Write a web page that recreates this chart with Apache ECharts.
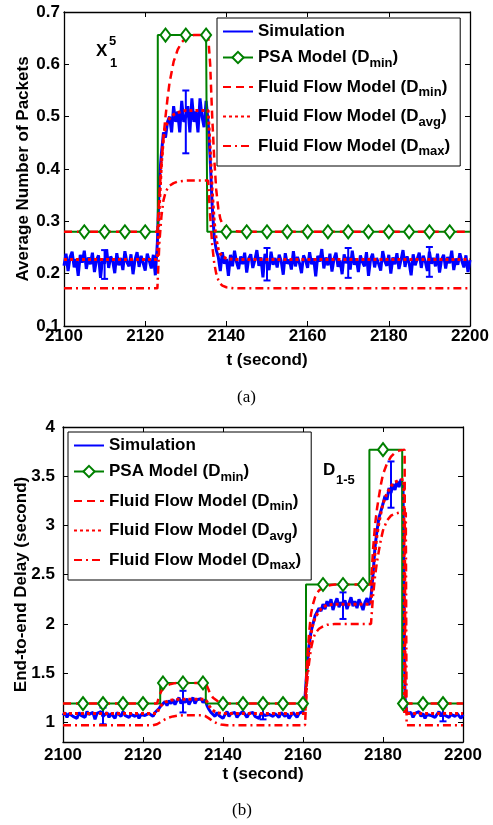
<!DOCTYPE html>
<html><head><meta charset="utf-8">
<script src="https://cdn.jsdelivr.net/npm/echarts@6/dist/echarts.min.js"></script>
<style>html,body{margin:0;padding:0;background:#fff}#c{width:493px;height:825px}</style>
</head><body><div id="c"></div>
<script>
// ---------------- shared ----------------
const names = ['Simulation', 'PSA Model (Dmin)', 'Fluid Flow Model (Dmin)', 'Fluid Flow Model (Davg)', 'Fluid Flow Model (Dmax)'];
const xTicks = [2100, 2120, 2140, 2160, 2180, 2200];
const simT0 = 2100, simDt = 0.5;

// ---------------- (a) X_1^5 average number of packets ----------------
const aSim = [
0.215,0.238,0.205,0.232,0.242,0.212,0.228,0.196,0.236,0.221,
0.244,0.209,0.231,0.218,0.240,0.203,0.226,0.235,0.192,0.229,
0.219,0.246,0.211,0.233,0.224,0.201,0.239,0.216,0.230,0.207,
0.243,0.222,0.214,0.237,0.199,0.227,0.241,0.213,0.234,0.220,
0.206,0.238,0.225,0.210,0.236,0.197,
0.26,0.38,0.43,0.47,0.46,0.49,0.5,0.47,0.52,0.49,
0.51,0.47,0.53,0.49,0.5,0.52,0.47,0.535,0.49,0.51,
0.47,0.535,0.5,0.48,0.53,0.49,0.42,0.33,0.27,0.245,
0.232,0.205,0.241,0.219,0.228,0.196,0.236,0.214,0.244,0.222,
0.209,0.233,0.218,0.240,0.202,0.229,0.237,0.211,0.226,0.245,
0.215,0.231,0.193,0.238,0.221,0.207,0.242,0.217,0.230,0.212,
0.236,0.224,0.198,0.239,0.219,0.227,0.208,0.243,0.214,0.232,
0.220,0.201,0.235,0.226,0.211,0.241,0.218,0.229,0.195,0.234,
0.223,0.247,0.210,0.231,0.216,0.238,0.204,0.228,0.240,0.213,
0.225,0.199,0.237,0.220,0.232,0.208,0.244,0.217,0.229,0.203,
0.235,0.222,0.214,0.241,0.196,0.227,0.238,0.212,0.230,0.219,
0.206,0.243,0.224,0.215,0.236,0.200,0.231,0.218,0.239,0.209,
0.226,0.245,0.213,0.233,0.221,0.197,0.237,0.216,0.228,0.240,
0.211,0.234,0.223,0.205,0.242,0.219,0.230,0.214,0.238,0.202,
0.227,0.236,0.210,0.232,0.220,0.244,0.207,0.229,0.217,0.239,
0.224,0.212,0.235,0.203,0.226];
const aErrT  = [2110, 2130, 2150, 2170, 2190];
const aErrLo = [0.19, 0.43, 0.187, 0.192, 0.194];
const aErrHi = [0.245, 0.55, 0.249, 0.249, 0.251];
const aPsaStepT = [2100, 2123.1, 2123.1, 2135.3, 2135.3, 2200];
const aPsaStepV = [0.28, 0.28, 0.656, 0.656, 0.28, 0.28];
const aPsaMarkT = [2105,2110,2115,2120,2125,2130,2135,2140,2145,2150,2155,2160,2165,2170,2175,2180,2185,2190,2195];
const aPsaMarkV = [0.28,0.28,0.28,0.28,0.656,0.656,0.656,0.28,0.28,0.28,0.28,0.28,0.28,0.28,0.28,0.28,0.28,0.28,0.28];
const aDminT = [2100,2123,2123.5,2124,2124.5,2125,2125.5,2126,2127,2128,2129,2130,2131,2132,2135.5,2136,2136.5,2137,2137.5,2138,2138.5,2139,2140,2141,2142,2144,2200];
const aDminV = [0.28,0.28,0.35,0.41,0.46,0.50,0.535,0.565,0.605,0.628,0.642,0.65,0.654,0.656,0.656,0.60,0.50,0.42,0.36,0.325,0.305,0.295,0.287,0.283,0.281,0.28,0.28];
const aDavgT = [2100,2123,2123.5,2124,2124.5,2125,2125.5,2126,2127,2128,2129,2130,2135.5,2136,2136.5,2137,2137.5,2138,2138.5,2139,2140,2142,2200];
const aDavgV = [0.227,0.227,0.33,0.41,0.46,0.48,0.49,0.497,0.504,0.508,0.51,0.512,0.512,0.44,0.36,0.30,0.265,0.247,0.238,0.233,0.229,0.227,0.227];
const aDmaxT = [2100,2123,2123.5,2124,2124.5,2125,2125.5,2126,2127,2128,2130,2135.5,2136,2136.5,2137,2137.5,2138,2138.5,2139,2140,2141,2142,2200];
const aDmaxV = [0.172,0.172,0.26,0.31,0.34,0.355,0.363,0.368,0.373,0.376,0.378,0.378,0.31,0.255,0.22,0.2,0.188,0.181,0.177,0.174,0.173,0.172,0.172];
const aYTicks = [0.1, 0.2, 0.3, 0.4, 0.5, 0.6, 0.7];

// ---------------- (b) D_1-5 end-to-end delay ----------------
const bSim = [
1.07,1.10,1.05,1.09,1.11,1.06,1.08,1.04,1.10,1.07,
1.09,1.05,1.11,1.08,1.06,1.10,1.03,1.09,1.07,1.11,
1.06,1.08,1.10,1.05,1.09,1.07,1.04,1.10,1.08,1.06,
1.11,1.07,1.09,1.05,1.08,1.10,1.06,1.09,1.04,1.08,
1.10,1.07,1.05,1.09,1.08,1.06,1.10,1.09,
1.14,1.17,1.19,1.21,1.17,1.22,1.19,1.23,1.18,1.22,
1.25,1.19,1.23,1.20,1.24,1.18,1.22,1.25,1.19,1.23,
1.21,1.24,1.20,1.23,1.17,1.13,1.10,
1.08,1.06,1.10,1.07,1.09,1.04,1.08,1.11,1.06,1.09,
1.07,1.10,1.05,1.08,1.06,1.11,1.08,1.05,1.09,1.07,
1.10,1.06,1.08,1.04,1.09,1.11,1.07,1.05,1.08,1.10,
1.06,1.09,1.07,1.05,1.10,1.08,1.06,1.09,1.04,1.07,
1.10,1.08,1.05,1.09,1.07,1.11,
1.25,1.55,1.78,1.92,2.00,2.08,2.10,2.16,2.13,2.20,
2.15,2.23,2.18,2.25,2.14,2.21,2.26,2.17,2.22,2.19,
2.24,2.15,2.21,2.27,2.18,2.23,2.16,2.25,2.20,2.14,
2.22,2.26,2.19,2.28,2.50,2.78,2.95,3.08,3.15,3.22,
3.30,3.26,3.38,3.33,3.42,3.36,3.45,3.39,3.47,3.40,
1.25,1.09,
1.07,1.10,1.05,1.09,1.08,1.11,1.06,1.09,1.04,1.08,
1.10,1.07,1.09,1.05,1.08,1.11,1.06,1.10,1.07,1.09,
1.05,1.08,1.10,1.06,1.09,1.07,1.04,1.08];
const bErrT  = [2110, 2130, 2150, 2170, 2182, 2195];
const bErrLo = [0.98, 1.10, 1.03, 2.05, 3.18, 1.01];
const bErrHi = [1.15, 1.32, 1.20, 2.32, 3.65, 1.18];
const bPsaStepT = [2100,2124.3,2124.3,2135.7,2135.7,2160.75,2160.75,2176.6,2176.6,2184.8,2184.8,2200];
const bPsaStepV = [1.19,1.19,1.40,1.40,1.19,1.19,2.40,2.40,3.77,3.77,1.19,1.19];
const bPsaMarkT = [2105,2110,2115,2120,2125,2130,2135,2140,2145,2150,2155,2160,2165,2170,2175,2180,2185,2190,2195];
const bPsaMarkV = [1.19,1.19,1.19,1.19,1.40,1.40,1.40,1.19,1.19,1.19,1.19,1.19,2.40,2.40,2.40,3.77,1.19,1.19,1.19];
const bDminT = [2100,2123.5,2124,2124.5,2125,2125.5,2126,2127,2128,2129,2135.5,2136,2136.5,2137,2137.5,2138,2139,2140,2141,2160.5,2161,2161.5,2162,2162.5,2163,2163.5,2164,2165,2166,2167,2168,2177,2177.5,2178,2178.5,2179,2179.5,2180,2181,2182,2183,2184,2185.4,2185.6,2200];
const bDminV = [1.19,1.19,1.26,1.31,1.34,1.36,1.375,1.39,1.398,1.40,1.40,1.37,1.32,1.28,1.25,1.23,1.205,1.195,1.19,1.19,1.6,1.9,2.1,2.2,2.27,2.31,2.34,2.37,2.385,2.395,2.40,2.40,2.75,3.0,3.17,3.3,3.42,3.52,3.63,3.70,3.74,3.76,3.77,1.19,1.19];
const bDavgT = [2100,2123.5,2124,2124.5,2125,2125.5,2126,2127,2128,2129,2135.5,2136,2136.5,2137,2137.5,2138,2139,2140,2141,2160.5,2161,2161.5,2162,2162.5,2163,2164,2165,2166,2168,2177,2177.5,2178,2178.5,2179,2179.5,2180,2181,2182,2183,2184,2185.2,2185.4,2200];
const bDavgV = [1.09,1.09,1.14,1.17,1.19,1.205,1.215,1.225,1.23,1.235,1.235,1.21,1.17,1.14,1.12,1.105,1.095,1.09,1.09,1.09,1.5,1.75,1.9,2.0,2.06,2.13,2.17,2.19,2.2,2.2,2.5,2.72,2.9,3.03,3.13,3.22,3.33,3.4,3.44,3.46,3.47,1.09,1.09];
const bDmaxT = [2100,2122.5,2123.5,2124.5,2125.5,2126.5,2127.5,2128.5,2130,2134.5,2135.5,2136.5,2137.5,2138.5,2139.5,2141,2160.5,2161,2161.5,2162,2162.5,2163,2164,2165,2166,2168,2177,2177.5,2178,2178.5,2179,2179.5,2180,2181,2182,2183,2184,2185.7,2185.9,2200];
const bDmaxV = [0.97,0.97,0.98,1.005,1.03,1.048,1.06,1.067,1.072,1.072,1.065,1.04,1.01,0.99,0.978,0.97,0.97,1.4,1.6,1.75,1.84,1.9,1.95,1.975,1.99,2.0,2.0,2.28,2.48,2.63,2.75,2.86,2.95,3.05,3.1,3.12,3.13,3.13,0.97,0.97];
const bYTicks = [1, 1.5, 2, 2.5, 3, 3.5, 4];

// ---------------- build ----------------
const BLUE = '#0000ff', GREEN = '#008000', RED = '#ff0000';
const FONT = '"Liberation Sans", Arial, Helvetica, sans-serif';
const axFont = {fontFamily: FONT, fontWeight: 'bold', fontSize: 17, color: '#000'};
const pairs = (T, V) => T.map((t, i) => [t, V[i]]);

function psaData(stepT, stepV, markT, markV) {
  const arr = stepT.map((t, i) => ({t, o: i, item: {value: [t, stepV[i]], symbol: 'none'}}))
    .concat(markT.map((t, i) => ({t, o: 1000 + i, item: {value: [t, markV[i]]}})));
  arr.sort((a, b) => a.t - b.t || a.o - b.o);
  return arr.map(d => d.item);
}

function errRender(params, api) {
  const x = api.value(0), lo = api.value(1), hi = api.value(2);
  const a = api.coord([x, lo]), b = api.coord([x, hi]);
  const w = 3.5, st = {stroke: BLUE, lineWidth: 2};
  return {type: 'group', children: [
    {type: 'line', shape: {x1: a[0], y1: a[1], x2: b[0], y2: b[1]}, style: st},
    {type: 'line', shape: {x1: a[0] - w, y1: a[1], x2: a[0] + w, y2: a[1]}, style: st},
    {type: 'line', shape: {x1: b[0] - w, y1: b[1], x2: b[0] + w, y2: b[1]}, style: st}
  ]};
}

function seriesFor(xi, yi, sim, eT, eLo, eHi, pST, pSV, pMT, pMV, dnT, dnV, daT, daV, dxT, dxV) {
  return [
    {name: names[0], type: 'line', xAxisIndex: xi, yAxisIndex: yi, symbol: 'none', showSymbol: false,
     data: sim.map((v, i) => [simT0 + i * simDt, v]), lineStyle: {color: BLUE, width: 3}, itemStyle: {color: BLUE}},
    {type: 'custom', xAxisIndex: xi, yAxisIndex: yi, renderItem: errRender,
     encode: {x: 0, y: [1, 2]}, data: eT.map((t, i) => [t, eLo[i], eHi[i]])},
    {name: names[1], type: 'line', xAxisIndex: xi, yAxisIndex: yi, symbol: 'diamond', symbolSize: [10, 13],
     showSymbol: true, data: psaData(pST, pSV, pMT, pMV),
     lineStyle: {color: GREEN, width: 2}, itemStyle: {color: '#fff', borderColor: GREEN, borderWidth: 2}},
    {name: names[2], type: 'line', xAxisIndex: xi, yAxisIndex: yi, symbol: 'none', showSymbol: false,
     data: pairs(dnT, dnV), lineStyle: {color: RED, width: 2.5, type: [8, 5]}, itemStyle: {color: RED}},
    {name: names[3], type: 'line', xAxisIndex: xi, yAxisIndex: yi, symbol: 'none', showSymbol: false,
     data: pairs(daT, daV), lineStyle: {color: RED, width: 3, type: [3, 3]}, itemStyle: {color: RED}},
    {name: names[4], type: 'line', xAxisIndex: xi, yAxisIndex: yi, symbol: 'none', showSymbol: false,
     data: pairs(dxT, dxV), lineStyle: {color: RED, width: 2.5, type: [8, 4, 2, 4]}, itemStyle: {color: RED}}
  ];
}

function xAx(grid, pos, labels, margin, name, gap) {
  return {type: 'value', gridIndex: grid, position: pos, min: xTicks[0], max: xTicks[xTicks.length - 1], interval: xTicks[1] - xTicks[0],
    axisLine: {show: true, onZero: false, lineStyle: {color: '#000', width: 1.3}},
    axisTick: {show: true, inside: true, length: 5, lineStyle: {color: '#000', width: 1}},
    axisLabel: Object.assign({show: labels, margin: margin, formatter: v => String(v)}, axFont),
    splitLine: {show: false}, name: name || '', nameLocation: 'middle', nameGap: gap || 0, nameMoveOverlap: false, nameTextStyle: axFont};
}
function yAx(grid, pos, labels, cfg, margin, name, gap) {
  return Object.assign({type: 'value', gridIndex: grid, position: pos,
    axisLine: {show: true, onZero: false, lineStyle: {color: '#000', width: 1.3}},
    axisTick: {show: true, inside: true, length: 5, lineStyle: {color: '#000', width: 1}},
    axisLabel: Object.assign({show: labels, margin: margin, showMinLabel: cfg.showMinLabel}, axFont, cfg.fmt ? {formatter: cfg.fmt} : {}),
    splitLine: {show: false}, name: name || '', nameLocation: 'middle', nameRotate: 90, nameGap: gap || 0, nameMoveOverlap: false, nameTextStyle: axFont}, cfg.scale);
}

const aYCfg = {scale: {min: aYTicks[0], max: aYTicks[aYTicks.length - 1], interval: aYTicks[1] - aYTicks[0]}, fmt: v => v.toFixed(1), showMinLabel: true};
const bYCfg = {scale: {min: 0.8, max: bYTicks[bYTicks.length - 1], splitNumber: 6, minInterval: bYTicks[1] - bYTicks[0], maxInterval: bYTicks[1] - bYTicks[0]}, fmt: v => String(+v.toFixed(2)), showMinLabel: false};

function legendFmt(name) {
  const m = name.match(/^(.*\(D)(min|avg|max)(\))$/);
  if (!m) return '{n|' + name + '}';
  return '{n|' + m[1] + '}{s|' + m[2] + '}{n|)}';
}
const hiddenSym = {color: 'rgba(0,0,0,0)', borderColor: 'rgba(0,0,0,0)', borderWidth: 0, opacity: 0};
function legendCfg(left, top) {
  return {left: left, top: top, orient: 'vertical',
    data: names.map((n, i) => i === 1 ? {name: n} : {name: n, itemStyle: hiddenSym}),
    itemWidth: 30, itemHeight: 14, itemGap: 9,
    padding: [5, 10, 8, 5], borderColor: '#000', borderWidth: 1, backgroundColor: '#fff', borderRadius: 0,
    selectedMode: false, formatter: legendFmt,
    textStyle: {rich: {
      n: {fontFamily: FONT, fontWeight: 'bold', fontSize: 17, color: '#000'},
      s: {fontFamily: FONT, fontWeight: 'bold', fontSize: 13, color: '#000', padding: [11, 0, 0, 0]}
    }}};
}

const option = {
  animation: false,
  backgroundColor: '#fff',
  grid: [
    {left: 64, top: 12, width: 406, height: 314, containLabel: false, outerBoundsMode: 'none'},
    {left: 63, top: 427, width: 400, height: 315, containLabel: false, outerBoundsMode: 'none'}
  ],
  xAxis: [
    xAx(0, 'bottom', true, 2, 't (second)', 26),
    xAx(0, 'top', false, 0),
    xAx(1, 'bottom', true, 5, 't (second)', 24),
    xAx(1, 'top', false, 0)
  ],
  yAxis: [
    yAx(0, 'left', true, aYCfg, 4, 'Average Number of Packets', 32),
    yAx(0, 'right', false, aYCfg, 0),
    yAx(1, 'left', true, bYCfg, 8, 'End-to-end Delay (second)', 33),
    yAx(1, 'right', false, bYCfg, 0)
  ],
  legend: [legendCfg(217, 18), legendCfg(68, 432)],
  series: [].concat(
    seriesFor(0, 0, aSim, aErrT, aErrLo, aErrHi, aPsaStepT, aPsaStepV, aPsaMarkT, aPsaMarkV, aDminT, aDminV, aDavgT, aDavgV, aDmaxT, aDmaxV),
    seriesFor(2, 2, bSim, bErrT, bErrLo, bErrHi, bPsaStepT, bPsaStepV, bPsaMarkT, bPsaMarkV, bDminT, bDminV, bDavgT, bDavgV, bDmaxT, bDmaxV)
  ),
  graphic: [
    {type: 'text', left: 96, top: 43, style: {text: 'X', font: 'bold 17px ' + FONT, fill: '#000'}},
    {type: 'text', left: 109, top: 35, style: {text: '5', font: 'bold 13px ' + FONT, fill: '#000'}},
    {type: 'text', left: 110, top: 57, style: {text: '1', font: 'bold 13px ' + FONT, fill: '#000'}},
    {type: 'text', left: 323, top: 462, style: {text: 'D', font: 'bold 17px ' + FONT, fill: '#000'}},
    {type: 'text', left: 336, top: 474, style: {text: '1-5', font: 'bold 13px ' + FONT, fill: '#000'}},
    {type: 'text', left: 237, top: 389, style: {text: '(a)', font: '17px "Liberation Serif", "Times New Roman", serif', fill: '#000'}},
    {type: 'text', left: 232, top: 802, style: {text: '(b)', font: '17px "Liberation Serif", "Times New Roman", serif', fill: '#000'}}
  ]
};
const chart = echarts.init(document.getElementById('c'), null, {renderer: 'canvas'});
chart.setOption(option);
</script></body></html>
